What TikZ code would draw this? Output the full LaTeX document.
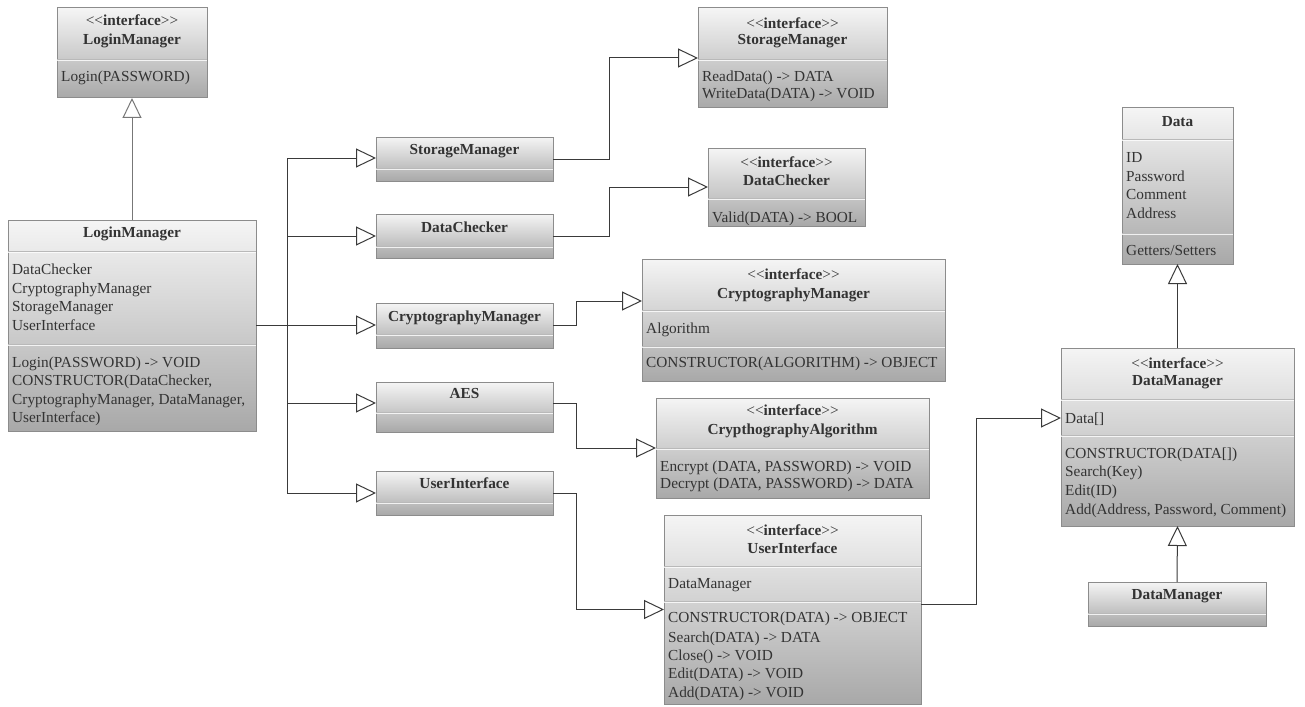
\documentclass[tikz,border=0pt]{standalone}
\usepackage{fontspec}
\setmainfont{Liberation Serif}
\usetikzlibrary{arrows.meta}

\definecolor{ink}{HTML}{333333}
\definecolor{frame}{HTML}{8C8C8C}
\definecolor{wire}{HTML}{3A3A3A}
\definecolor{softwire}{HTML}{777777}

% stereotype label, kerned so that << and >> stay as two characters
\newcommand\stereo{<\kern0pt<\textbf{interface}>\kern0pt>}
% one text line, left aligned, baseline at (x,y)
\newcommand\umlrow[4]{\node[txt,anchor=base west] (#1) at (#2,#3) {#4};}
% one centred text line, baseline at (x,y)
\newcommand\umlmid[4]{\node[txt,anchor=base] (#1) at (#2,#3) {#4};}
% compartment divider
\newcommand\umlsep[3]{%
  \draw[sepdark] (#1,#3) -- (#2,#3);
  \draw[seplight] (#1,#3+1.4) -- (#2,#3+1.4);}

\tikzset{
  umlbox/.style={draw=frame, line width=1pt, top color=gray!8, bottom color=gray!68,
    inner sep=0pt, outer sep=0pt, anchor=north west},
  txt/.style={inner sep=0pt, text=ink, font=\fontsize{15.3}{18.5}\selectfont},
  sepdark/.style={draw=gray!55, line width=0.8pt},
  seplight/.style={draw=white, line width=0.8pt, opacity=0.8},
  wireline/.style={draw=wire, line width=1pt},
  inh/.style={wireline, -{Triangle[length=20pt, width=19pt, fill=white]}},
}

\begin{document}
\begin{tikzpicture}[x=1pt, y=-1pt]
\useasboundingbox (0,0) rectangle (1305,706);

% ---------- class boxes ----------
\node[umlbox, minimum width=150pt, minimum height=90pt]  (ilm)  at (57,8) {};
\node[umlbox, minimum width=248pt, minimum height=211pt] (lmc)  at (8,220) {};
\node[umlbox, minimum width=177pt, minimum height=44pt]  (sm)   at (376,137) {};
\node[umlbox, minimum width=177pt, minimum height=44pt]  (dc)   at (376,214) {};
\node[umlbox, minimum width=177pt, minimum height=45pt]  (cm)   at (376,303) {};
\node[umlbox, minimum width=177pt, minimum height=50pt]  (aes)  at (376,382) {};
\node[umlbox, minimum width=177pt, minimum height=44pt]  (ui)   at (376,471) {};
\node[umlbox, minimum width=189pt, minimum height=100pt] (ism)  at (698,8) {};
\node[umlbox, minimum width=157pt, minimum height=78pt]  (idc)  at (708,148) {};
\node[umlbox, minimum width=303pt, minimum height=122pt] (icm)  at (642,259) {};
\node[umlbox, minimum width=273pt, minimum height=100pt] (ica)  at (656,398) {};
\node[umlbox, minimum width=257pt, minimum height=189pt] (iui)  at (664,515) {};
\node[umlbox, minimum width=111pt, minimum height=156pt] (data) at (1122,108) {};
\node[umlbox, minimum width=233pt, minimum height=178pt] (idm)  at (1061,348) {};
\node[umlbox, minimum width=178pt, minimum height=44pt]  (dms)  at (1088,582) {};

% ---------- compartment dividers ----------
\umlsep{57}{207}{59}
\umlsep{8}{256}{251}   \umlsep{8}{256}{344}
\umlsep{376}{553}{168}
\umlsep{376}{553}{246}
\umlsep{376}{553}{334}
\umlsep{376}{553}{412}
\umlsep{376}{553}{502}
\umlsep{698}{887}{59}
\umlsep{708}{865}{198}
\umlsep{642}{945}{310}  \umlsep{642}{945}{346}
\umlsep{656}{929}{448}
\umlsep{664}{921}{566}  \umlsep{664}{921}{601}
\umlsep{1122}{1233}{139} \umlsep{1122}{1233}{233}
\umlsep{1061}{1294}{399} \umlsep{1061}{1294}{435}
\umlsep{1088}{1266}{613}

% ---------- texts ----------
% LoginManager interface
\umlmid{ilm-s}{132}{26}{\stereo}
\umlmid{ilm-t}{132}{45}{\textbf{LoginManager}}
\umlrow{ilm-m1}{61}{82}{Login(PASSWORD)}
% LoginManager class
\umlmid{lmc-t}{132}{237}{\textbf{LoginManager}}
\umlrow{lmc-a1}{12}{274}{DataChecker}
\umlrow{lmc-a2}{12}{293}{CryptographyManager}
\umlrow{lmc-a3}{12}{311}{StorageManager}
\umlrow{lmc-a4}{12}{330}{UserInterface}
\umlrow{lmc-m1}{12}{367}{Login(PASSWORD) -> VOID}
\umlrow{lmc-m2}{12}{385}{CONSTRUCTOR(DataChecker,}
\umlrow{lmc-m3}{12}{404}{CryptographyManager, DataManager,}
\umlrow{lmc-m4}{12}{422}{UserInterface)}
% concrete classes
\umlmid{sm-t}{464.5}{154}{\textbf{StorageManager}}
\umlmid{dc-t}{464.5}{232}{\textbf{DataChecker}}
\umlmid{cm-t}{464.5}{321}{\textbf{CryptographyManager}}
\umlmid{aes-t}{464.5}{398}{\textbf{AES}}
\umlmid{ui-t}{464.5}{488}{\textbf{UserInterface}}
% StorageManager interface
\umlmid{ism-s}{792.5}{29}{\stereo}
\umlmid{ism-t}{792.5}{45}{\textbf{StorageManager}}
\umlrow{ism-m1}{702}{82}{ReadData() -> DATA}
\umlrow{ism-m2}{702}{99}{WriteData(DATA) -> VOID}
% DataChecker interface
\umlmid{idc-s}{786.5}{167}{\stereo}
\umlmid{idc-t}{786.5}{185}{\textbf{DataChecker}}
\umlrow{idc-m1}{712}{222}{Valid(DATA) -> BOOL}
% CryptographyManager interface
\umlmid{icm-s}{793.5}{279}{\stereo}
\umlmid{icm-t}{793.5}{298}{\textbf{CryptographyManager}}
\umlrow{icm-a1}{646}{333}{Algorithm}
\umlrow{icm-m1}{646}{367}{CONSTRUCTOR(ALGORITHM) -> OBJECT}
% CrypthographyAlgorithm interface
\umlmid{ica-s}{792.5}{415}{\stereo}
\umlmid{ica-t}{792.5}{434}{\textbf{CrypthographyAlgorithm}}
\umlrow{ica-m1}{660}{471}{Encrypt (DATA, PASSWORD) -> VOID}
\umlrow{ica-m2}{660}{488}{Decrypt (DATA, PASSWORD) -> DATA}
% UserInterface interface
\umlmid{iui-s}{792.5}{535}{\stereo}
\umlmid{iui-t}{792.5}{553}{\textbf{UserInterface}}
\umlrow{iui-a1}{668}{588}{DataManager}
\umlrow{iui-m1}{668}{622}{CONSTRUCTOR(DATA) -> OBJECT}
\umlrow{iui-m2}{668}{642}{Search(DATA) -> DATA}
\umlrow{iui-m3}{668}{660}{Close() -> VOID}
\umlrow{iui-m4}{668}{678}{Edit(DATA) -> VOID}
\umlrow{iui-m5}{668}{697}{Add(DATA) -> VOID}
% Data
\umlmid{data-t}{1177.5}{126}{\textbf{Data}}
\umlrow{data-a1}{1126}{162}{ID}
\umlrow{data-a2}{1126}{181}{Password}
\umlrow{data-a3}{1126}{199}{Comment}
\umlrow{data-a4}{1126}{218}{Address}
\umlrow{data-m1}{1126}{255}{Getters/Setters}
% DataManager interface
\umlmid{idm-s}{1177.5}{368}{\stereo}
\umlmid{idm-t}{1177.5}{385}{\textbf{DataManager}}
\umlrow{idm-a1}{1065}{423}{Data[]}
\umlrow{idm-m1}{1065}{458}{CONSTRUCTOR(DATA[])}
\umlrow{idm-m2}{1065}{476}{Search(Key)}
\umlrow{idm-m3}{1065}{495}{Edit(ID)}
\umlrow{idm-m4}{1065}{514}{Add(Address, Password, Comment)}
% DataManager class
\umlmid{dms-t}{1177}{599}{\textbf{DataManager}}

% ---------- connectors ----------
\draw[inh, draw=softwire] (lmc.north) -- (ilm.south);

\coordinate (b1) at (287,158);
\coordinate (b2) at (287,236);
\coordinate (b3) at (287,325);
\coordinate (b4) at (287,403);
\coordinate (b5) at (287,493);
\draw[wireline] (lmc.east |- b3) -- (b3);
\draw[wireline] (b1) -- (b5);
\draw[inh] (b1) -- (b1 -| sm.west);
\draw[inh] (b2) -- (b2 -| dc.west);
\draw[inh] (b3) -- (b3 -| cm.west);
\draw[inh] (b4) -- (b4 -| aes.west);
\draw[inh] (b5) -- (b5 -| ui.west);

\draw[inh] (sm.east) -- ++(56,0) |- (ism.west);
\draw[inh] (dc.east) -- ++(56,0) |- (idc.west);
\draw[inh] (cm.east) -- ++(23,0) |- ([yshift=19pt]icm.west);
\draw[inh] ([yshift=4pt]aes.east) -- ++(23,0) |- (ica.west);
\draw[inh] (ui.east) -- ++(23,0) |- (iui.west);
\draw[inh] ([yshift=5pt]iui.east) -- ++(55,0) |- ([yshift=19pt]idm.west);

\draw[inh] (idm.north) -- (data.south);
\draw[inh] (dms.north) -- (idm.south);
\end{tikzpicture}
\end{document}
